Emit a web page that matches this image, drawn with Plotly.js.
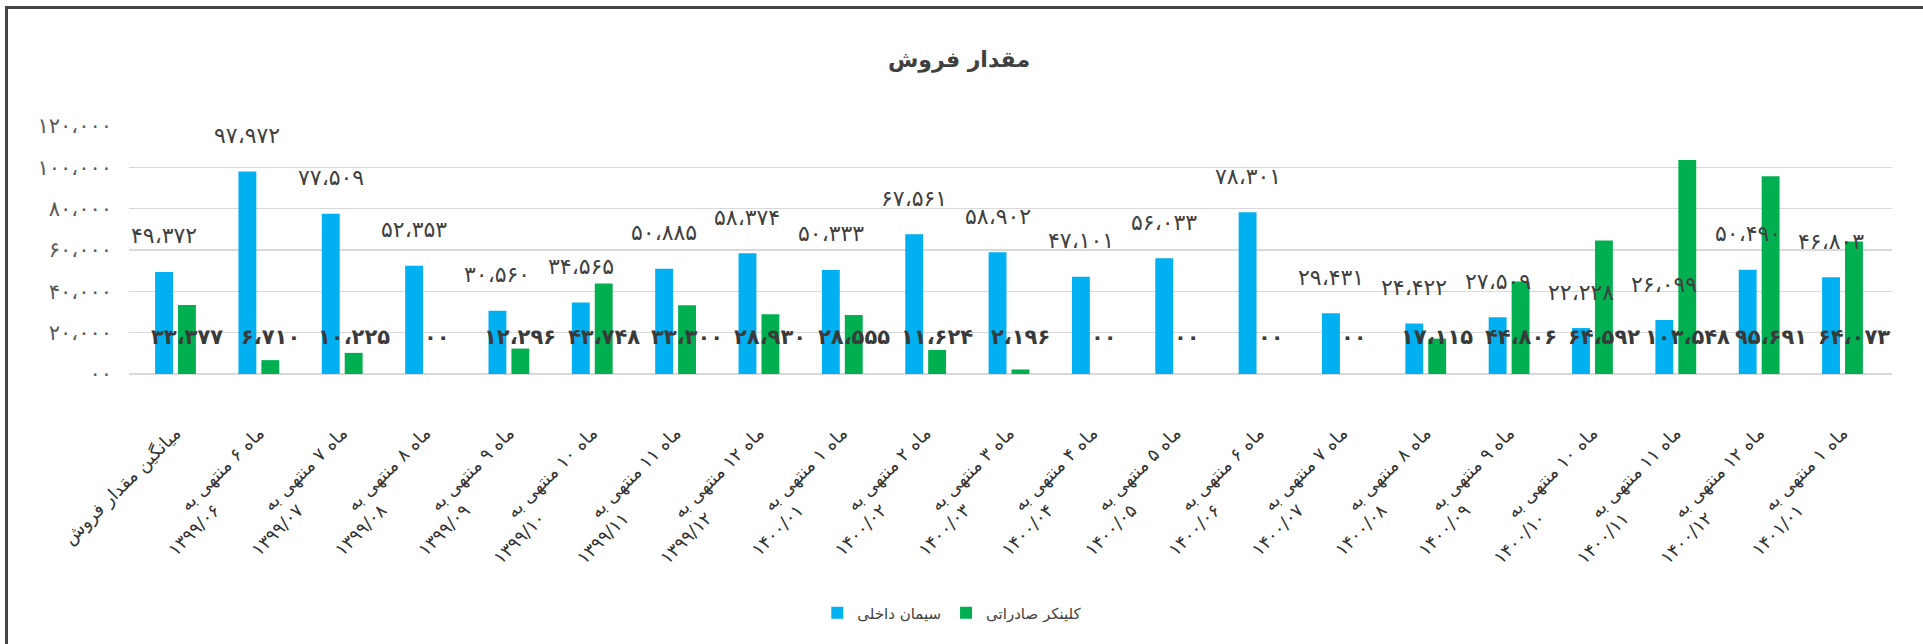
<!DOCTYPE html>
<html>
<head>
<meta charset="utf-8">
<script src="https://cdn.plot.ly/plotly-3.0.1.min.js"></script>
<style>
  html, body { margin: 0; padding: 0; background: #ffffff; }
  #wrap { position: relative; width: 1923px; height: 644px; overflow: hidden; }
  #chart { position: absolute; left: 0; top: 0; width: 1923px; height: 644px; }
  .frameTop { position: absolute; left: 5px; top: 6px; width: 1918px; height: 3px; background: #444444; }
  .frameLeft { position: absolute; left: 5px; top: 6px; width: 3px; height: 638px; background: #444444; }
</style>
</head>
<body>
<div id="wrap">
  <div id="chart"></div>
  <div class="frameTop"></div>
  <div class="frameLeft"></div>
</div>
<script>
// ---- data ----
const categories = [
  "میانگین مقدار فروش",
  "ماه ۶ منتهی به|۱۳۹۹/۰۶",
  "ماه ۷ منتهی به|۱۳۹۹/۰۷",
  "ماه ۸ منتهی به|۱۳۹۹/۰۸",
  "ماه ۹ منتهی به|۱۳۹۹/۰۹",
  "ماه ۱۰ منتهی به|۱۳۹۹/۱۰",
  "ماه ۱۱ منتهی به|۱۳۹۹/۱۱",
  "ماه ۱۲ منتهی به|۱۳۹۹/۱۲",
  "ماه ۱ منتهی به|۱۴۰۰/۰۱",
  "ماه ۲ منتهی به|۱۴۰۰/۰۲",
  "ماه ۳ منتهی به|۱۴۰۰/۰۳",
  "ماه ۴ منتهی به|۱۴۰۰/۰۴",
  "ماه ۵ منتهی به|۱۴۰۰/۰۵",
  "ماه ۶ منتهی به|۱۴۰۰/۰۶",
  "ماه ۷ منتهی به|۱۴۰۰/۰۷",
  "ماه ۸ منتهی به|۱۴۰۰/۰۸",
  "ماه ۹ منتهی به|۱۴۰۰/۰۹",
  "ماه ۱۰ منتهی به|۱۴۰۰/۱۰",
  "ماه ۱۱ منتهی به|۱۴۰۰/۱۱",
  "ماه ۱۲ منتهی به|۱۴۰۰/۱۲",
  "ماه ۱ منتهی به|۱۴۰۱/۰۱"
];
const seriesNames = ["سیمان داخلی", "کلینکر صادراتی"];
const cementDomestic = [49372, 97972, 77509, 52353, 30560, 34565, 50885, 58374, 50333, 67561, 58902, 47101, 56033, 78301, 29431, 24422, 27509, 22228, 26099, 50490, 46803];
const clinkerExport = [33377, 6710, 10225, 0, 12296, 43748, 33300, 28930, 28555, 11624, 2196, 0, 0, 0, 0, 17115, 44806, 64592, 103548, 95691, 64073];
const yTickVals = [0, 20000, 40000, 60000, 80000, 100000, 120000];
const yTickText = ["۰۰", "۲۰،۰۰۰", "۴۰،۰۰۰", "۶۰،۰۰۰", "۸۰،۰۰۰", "۱۰۰،۰۰۰", "۱۲۰،۰۰۰"];
const chartTitle = "مقدار فروش";

// ---- formatting ----
const FONT = "DejaVu Sans, sans-serif";
const BLUE = "#00B0F0";
const GREEN = "#00B050";
const TXT = "#404040";
const XFONT = 18;

function faNum(v) {
  if (v === 0) return "۰۰";
  const s = Math.round(v).toString().replace(/\B(?=(\d{3})+(?!\d))/g, "،");
  return s.replace(/\d/g, d => "۰۱۲۳۴۵۶۷۸۹"[+d]);
}

const cv = document.createElement("canvas").getContext("2d");
cv.font = XFONT + "px DejaVu Sans";
const nbspW = cv.measureText("\u00A0").width || 5;
function tickLabel(c) {
  const parts = c.split("|");
  if (parts.length < 2) return parts[0];
  const w1 = cv.measureText(parts[0]).width;
  const n = Math.max(0, Math.round(w1 * 0.8 / nbspW));
  return parts[0] + "<br>" + parts[1] + "\u00A0".repeat(n);
}
const tickText = categories.map(tickLabel);

const traces = [
  { type: "bar", name: seriesNames[0], x: categories, y: cementDomestic,
    marker: { color: BLUE }, hoverinfo: "skip" },
  { type: "bar", name: seriesNames[1], x: categories, y: clinkerExport,
    marker: { color: GREEN }, hoverinfo: "skip" }
];

const annotations = [];
categories.forEach((c, i) => {
  annotations.push({
    x: c, y: cementDomestic[i], xref: "x", yref: "y",
    text: faNum(cementDomestic[i]), showarrow: false,
    xanchor: "center", yanchor: "middle", xshift: -11.5, yshift: 36,
    font: { family: FONT, size: 22, color: TXT }
  });
  annotations.push({
    x: c, y: 0, xref: "x", yref: "y",
    text: "<b>" + faNum(clinkerExport[i]) + "</b>", showarrow: false,
    xanchor: "center", yanchor: "middle", xshift: 11.5, yshift: 37,
    font: { family: FONT, size: 21, color: "#3a3a3a" }
  });
});

const layout = {
  width: 1923, height: 644,
  margin: { l: 129, r: 31, t: 126, b: 270 },
  paper_bgcolor: "#ffffff", plot_bgcolor: "#ffffff",
  font: { family: FONT, color: TXT },
  title: { text: "<b>" + chartTitle + "</b>", x: 0.4987, xref: "container", xanchor: "center",
           y: 1 - 59 / 644, yref: "container", yanchor: "middle",
           font: { family: FONT, size: 22, color: TXT } },
  barmode: "group", bargap: 0.45, bargroupgap: 0.22,
  showlegend: true,
  legend: { orientation: "h", x: 0.467, xanchor: "center", y: -0.964, yanchor: "middle",
            font: { family: FONT, size: 15, color: TXT }, traceorder: "normal", itemwidth: 30 },
  xaxis: { type: "category", tickangle: -45, tickfont: { family: FONT, size: XFONT, color: "#333333" },
           tickmode: "array", tickvals: categories, ticktext: tickText,
           showgrid: false, showline: false, ticks: "", ticklabelstandoff: 44, automargin: false },
  yaxis: { range: [0, 120000], tickvals: yTickVals, ticktext: yTickText,
           tickfont: { family: FONT, size: 21, color: "#595959" },
           showgrid: true, gridcolor: "#D9D9D9", gridwidth: 1.5,
           zeroline: true, zerolinecolor: "#D9D9D9", zerolinewidth: 1.5,
           showline: false, ticks: "", ticklabelstandoff: 16, automargin: false },
  annotations: annotations
};

Plotly.newPlot("chart", traces, layout, { displayModeBar: false, staticPlot: true });
</script>
</body>
</html>
